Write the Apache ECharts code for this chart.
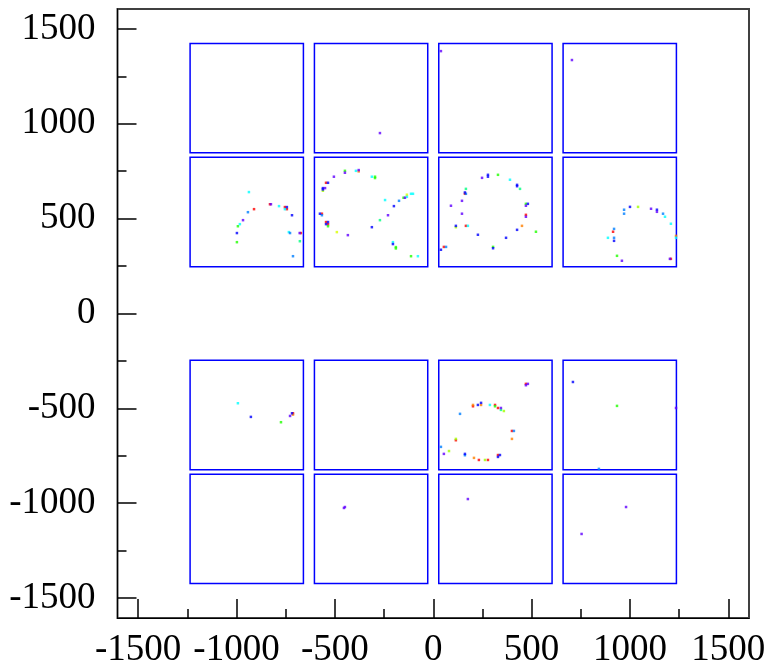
<!DOCTYPE html>
<html>
<head>
<meta charset="utf-8">
<script src="https://cdn.jsdelivr.net/npm/echarts@6/dist/echarts.min.js"></script>
<style>
html, body { margin: 0; padding: 0; background: #fff; }
#main { width: 771px; height: 672px; }
</style>
</head>
<body>
<div id="main"></div>
<script>
var majorTicks = [-1500, -1000, -500, 0, 500, 1000, 1500];
var minorTicks = [-1250, -750, -250, 250, 750, 1250];

// module outlines
var boxCols = [[-1236, -660], [-604, -28], [28, 604], [660, 1236]];
var boxRows = [[847, 1423], [247, 823], [-823, -247], [-1423, -847]];

// hits, grouped by colour
var redHits = [[-911, 550], [-830, 576], [-754, 561], [-744, 550], [-673, 424],
  [-545, 689], [-566, 526], [-545, 482], [-535, 471],
  [161, 631], [471, 520], [166, 462], [54, 351], [914, 431], [1208, 288],
  [-713, -526], [471, -371], [202, -489], [314, -482], [329, -498], [400, -619],
  [115, -668], [329, -746], [232, -772], [278, -772]];
var orangeHits = [[-379, 749], [451, 462], [1234, 409], [-713, -533],
  [202, -482], [243, -482], [400, -661], [207, -761]];
var yellowHits = [[-134, 626], [-490, 429]];
var limeHits = [[-561, 647], [115, 455], [1041, 562], [359, -514], [115, -661],
  [80, -725], [263, -772]];
var greenHits = [[-993, 460], [-998, 376], [-449, 752], [-296, 721], [-296, 714],
  [-151, 610], [-535, 460], [-190, 350], [-190, 343], [-113, 302],
  [329, 731], [471, 578], [522, 431], [304, 351], [934, 304],
  [-774, -573], [314, -489], [934, -487]];
var springHits = [[-678, 381], [-271, 492], [441, 657], [166, 657], [344, -508]];
var cyanHits = [[-937, 640], [-784, 566], [-754, 550], [-983, 471], [-734, 429],
  [-393, 752], [-312, 721], [-245, 598], [-113, 631], [-103, 631], [-134, 615],
  [-205, 376], [-78, 302], [390, 705], [176, 462],
  [1178, 510], [1208, 473], [888, 399], [1234, 399], [-993, -473], [288, -482]];
var azureHits = [[-942, 534], [-728, 424], [-713, 302], [-174, 594], [-566, 518],
  [166, 631], [65, 351], [970, 547], [970, 526], [1168, 526], [919, 446], [919, 399],
  [136, -529], [410, -619], [39, -703], [161, -747], [842, -819]];
var blueHits = [[-744, 561], [-718, 518], [-998, 424],
  [-535, 689], [-561, 661], [-561, 654], [-200, 566], [-576, 526], [-535, 482],
  [-545, 471], [-312, 455], [-205, 366],
  [278, 731], [278, 721], [426, 678], [426, 671], [161, 638], [481, 578], [115, 462],
  [426, 441], [227, 415], [370, 399], [304, 344], [39, 336],
  [1000, 562], [1137, 547], [919, 383], [-927, -545], [-718, -526],
  [227, -482], [243, -471], [161, -740], [339, -746], [329, -756], [710, -361]];
var violetHits = [[-825, 576], [-967, 492], [-679, 424],
  [-449, 742], [-379, 756], [-505, 721], [-550, 661], [-144, 610], [-230, 518], [-434, 413],
  [248, 715], [146, 594], [90, 568], [471, 568], [146, 526], [471, 510],
  [1107, 552], [1137, 536], [959, 278], [1203, 288], [-728, -540],
  [481, -371], [471, -378], [344, -498], [54, -740], [1234, -498],
  [-271, 951], [39, 1383], [705, 1336],
  [-454, -1025], [-449, -1020], [176, -978], [980, -1020], [754, -1162]];

var hitGroups = [
  [redHits, '#ff0000'], [orangeHits, '#ff8000'], [yellowHits, '#d8ff00'],
  [limeHits, '#a0ff00'], [greenHits, '#20ff00'], [springHits, '#00ff80'],
  [cyanHits, '#00ffff'], [azureHits, '#0080ff'], [blueHits, '#0000ff'],
  [violetHits, '#6000ff']
];

var boxes = [];
boxRows.forEach(function (r) {
  boxCols.forEach(function (c) {
    boxes.push([c[0], c[1], r[0], r[1]]);
  });
});

var chart = echarts.init(document.getElementById('main'));

var labelFont = {
  fontFamily: 'Liberation Serif',
  fontSize: 37,
  color: '#000'
};

function mainAxis(pos, margin) {
  return {
    type: 'value',
    position: pos,
    min: -1605,
    max: 1605,
    axisLine: { show: true, onZero: false, lineStyle: { color: '#000', width: 1 } },
    axisTick: { show: true, inside: true, length: 19, customValues: majorTicks,
      lineStyle: { color: '#000', width: 1.5 } },
    axisLabel: Object.assign({
      show: true, margin: margin, customValues: majorTicks,
      formatter: function (v) { return String(v); }
    }, labelFont),
    splitLine: { show: false }
  };
}
function minorAxis(pos) {
  return {
    type: 'value',
    position: pos,
    min: -1605,
    max: 1605,
    axisLine: { show: false, onZero: false },
    axisTick: { show: true, inside: true, length: 9, customValues: minorTicks,
      lineStyle: { color: '#000', width: 1.5 } },
    axisLabel: { show: false },
    splitLine: { show: false }
  };
}

var series = [{
  type: 'custom',
  silent: true,
  z: 1,
  data: boxes,
  encode: { x: [0, 1], y: [2, 3] },
  renderItem: function (params, api) {
    var p0 = api.coord([api.value(0), api.value(3)]);
    var p1 = api.coord([api.value(1), api.value(2)]);
    return {
      type: 'rect',
      shape: { x: p0[0], y: p0[1], width: p1[0] - p0[0], height: p1[1] - p0[1] },
      style: { fill: 'transparent', stroke: '#0000ff', lineWidth: 1.5 }
    };
  }
}];

hitGroups.forEach(function (g) {
  series.push({
    type: 'scatter',
    z: 3,
    symbol: 'rect',
    symbolSize: 2.5,
    data: g[0],
    itemStyle: { color: g[1] },
    silent: true
  });
});

var option = {
  backgroundColor: '#fff',
  animation: false,
  grid: {
    left: 117.5,
    right: 22,
    top: 9,
    bottom: 54,
    show: true,
    borderColor: '#404040',
    borderWidth: 2,
    backgroundColor: 'transparent'
  },
  xAxis: [mainAxis('bottom', 14), minorAxis('bottom')],
  yAxis: [mainAxis('left', 22), minorAxis('left')],
  series: series
};

chart.setOption(option);
</script>
</body>
</html>
